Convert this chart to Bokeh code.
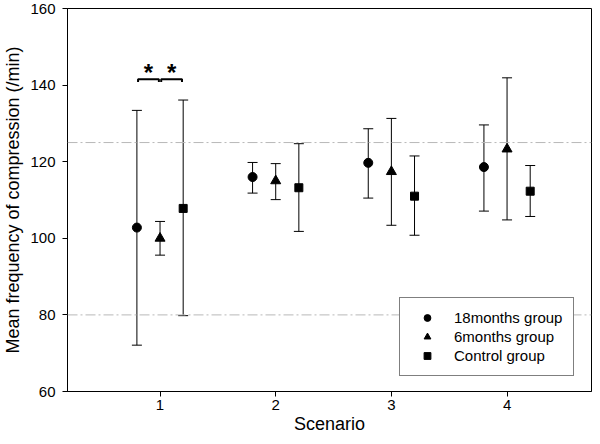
from bokeh.plotting import figure
from bokeh.models import ColumnDataSource, Whisker, TeeHead, Span, Legend, LegendItem, FixedTicker, Range1d
from bokeh.core.properties import value
from bokeh.embed import file_html
from bokeh.resources import INLINE

# ---- data ----
scenarios = [1, 2, 3, 4]
tick_labels = ["1", "2", "3", "4"]
group_names = ["18months group", "6months group", "Control group"]

g18_mean = [102.8, 116.0, 119.7, 118.6]
g18_upper = [133.4, 119.8, 128.6, 129.6]
g18_lower = [72.1, 111.8, 110.5, 107.1]

g6_mean = [100.0, 115.0, 117.4, 123.3]
g6_upper = [104.4, 119.5, 131.3, 141.9]
g6_lower = [95.6, 110.1, 103.4, 104.8]

ctrl_mean = [107.8, 113.2, 111.0, 112.3]
ctrl_upper = [136.1, 124.7, 121.5, 119.0]
ctrl_lower = [79.8, 101.8, 100.8, 105.7]

ref_levels = [125, 80]
y_ticks = [60, 80, 100, 120, 140, 160]

# significance brackets (scenario 1)
sig_left = [0.8, 1.0]
sig_right = [1.0, 1.2]
sig_level = 141.5
sig_marks = ["*", "*"]

FONT = "Liberation Sans"

p = figure(width=592, height=436, output_backend="svg", toolbar_location=None,
           x_range=Range1d(0.2, 4.73), y_range=Range1d(60, 160),
           min_border_left=66, min_border_right=1, min_border_top=8, min_border_bottom=44)
p.xgrid.visible = False
p.ygrid.visible = False
p.outline_line_color = "black"
p.outline_line_width = 1
p.background_fill_color = "white"
p.border_fill_color = "white"

for ax in (p.xaxis[0], p.yaxis[0]):
    ax.major_tick_in = 0
    ax.major_tick_out = 5
    ax.minor_tick_line_color = None
    ax.axis_line_color = "black"
    ax.major_tick_line_color = "black"
    ax.major_label_text_font = FONT
    ax.major_label_text_font_size = "15px"
    ax.major_label_text_color = "black"
    ax.axis_label_text_font = FONT
    ax.axis_label_text_font_size = "18px"
    ax.axis_label_text_font_style = "normal"
    ax.axis_label_text_color = "black"

p.xaxis.ticker = FixedTicker(ticks=scenarios)
p.xaxis.major_label_overrides = {s: t for s, t in zip(scenarios, tick_labels)}
p.yaxis.ticker = FixedTicker(ticks=y_ticks)
p.xaxis.axis_label = "Scenario"
p.yaxis.axis_label = "Mean frequency of compression (/min)"
p.xaxis.major_label_standoff = 3
p.xaxis.axis_label_standoff = 1
p.yaxis.major_label_standoff = 7
p.yaxis.axis_label_standoff = 4

for lv in ref_levels:
    p.add_layout(Span(location=lv, dimension="width", line_color="#b8b8b8",
                      line_width=1, line_dash="10 3 2 3"))

offsets = [-0.2, 0.0, 0.2]
series = [(g18_mean, g18_upper, g18_lower, "circle", 9),
          (g6_mean, g6_upper, g6_lower, "triangle", 10),
          (ctrl_mean, ctrl_upper, ctrl_lower, "square", 8)]

renderers = []
for (m, up, lo, marker, size), off in zip(series, offsets):
    src = ColumnDataSource(dict(x=[s + off for s in scenarios], y=m, upper=up, lower=lo))
    w = Whisker(base="x", upper="upper", lower="lower", source=src,
                line_color="black", line_width=1,
                upper_head=TeeHead(size=10, line_color="black", line_width=1),
                lower_head=TeeHead(size=10, line_color="black", line_width=1))
    p.add_layout(w)
    r = p.scatter("x", "y", source=src, marker=marker, size=size,
                  fill_color="black", line_color="black")
    renderers.append(r)

# significance brackets
gap = 0.01
tick_depth = 0.7
xs, ys = [], []
for a, b in zip(sig_left, sig_right):
    xs.append([a + gap, a + gap, b - gap, b - gap])
    ys.append([sig_level - tick_depth, sig_level, sig_level, sig_level - tick_depth])
p.multi_line(xs, ys, line_color="black", line_width=2)
p.text(x=[(a + b) / 2 for a, b in zip(sig_left, sig_right)], y=[sig_level] * len(sig_marks),
       text=sig_marks, text_font=value(FONT), text_font_size="24px", text_font_style="bold",
       text_align="center", text_baseline="alphabetic", y_offset=-7, text_color="black")

legend = Legend(items=[LegendItem(label=n, renderers=[r]) for n, r in zip(group_names, renderers)],
                location=(332, 15), border_line_color="black", border_line_width=1,
                background_fill_color="white", background_fill_alpha=1.0,
                padding=11, margin=0, spacing=2, glyph_width=32, glyph_height=17,
                label_height=17, label_standoff=11,
                label_text_font=FONT, label_text_font_size="15px", label_text_color="black")
p.add_layout(legend)

open("out.html", "w").write(file_html(p, INLINE))
